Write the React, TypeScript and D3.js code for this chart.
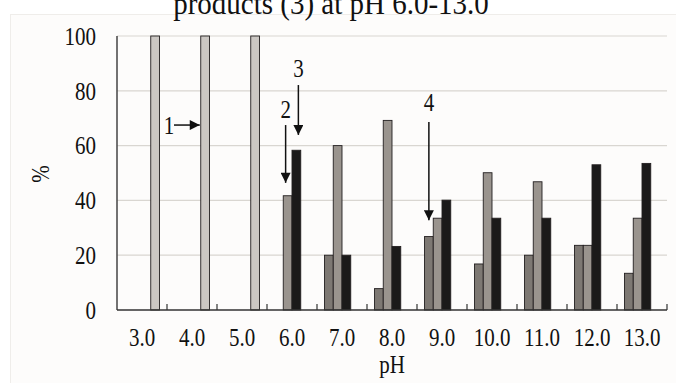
import * as d3 from 'd3';

// pH categories and the four series (% values)
const categories = ['3.0', '4.0', '5.0', '6.0', '7.0', '8.0', '9.0', '10.0', '11.0', '12.0', '13.0'];
const seriesA = [0, 0, 0, 0, 20, 7.8, 26.8, 16.8, 20, 23.6, 13.4];
const seriesB = [0, 0, 0, 41.7, 60, 69.2, 33.5, 50.1, 46.8, 23.6, 33.5];
const seriesC = [0, 0, 0, 58.3, 20, 23.2, 40.1, 33.5, 33.5, 53, 53.5];
const seriesD = [100, 100, 100, 0, 0, 0, 0, 0, 0, 0, 0];
const yTicks = [0, 20, 40, 60, 80, 100];

const seriesKeys = ['A', 'B', 'C', 'D'];
const seriesValues = [seriesA, seriesB, seriesC, seriesD];
const seriesColors = ['#7d7873', '#9a948e', '#1b1a1a', '#cbc7c3'];

const font = '"Liberation Serif", "Times New Roman", serif';

// text that is a bit taller than wide, like the scanned original
const T = ({ x, y, size = 21, anchor = 'middle', rotate = 0, sy = 1.2, dy = '0', children }) => (
  <text
    transform={`translate(${x},${y}) rotate(${rotate}) scale(1,${sy})`}
    textAnchor={anchor}
    dy={dy}
    fontFamily={font}
    fontSize={size}
    fill="#111"
  >
    {children}
  </text>
);

const App = () => {
  const width = 676;
  const height = 383;
  const margin = { top: 36, right: 9, bottom: 73, left: 117 };
  const innerW = width - margin.left - margin.right;
  const innerH = height - margin.top - margin.bottom;

  const x0 = d3.scaleBand().domain(categories).range([0, innerW]).padding(0);
  const x1 = d3
    .scaleBand()
    .domain(seriesKeys)
    .range([x0.bandwidth() * 0.15, x0.bandwidth() * 0.85])
    .padding(0);
  const y = d3.scaleLinear().domain([0, 100]).range([innerH, 0]);

  const bars = [];
  categories.forEach((c, i) => {
    seriesKeys.forEach((k, j) => {
      const v = seriesValues[j][i];
      if (v > 0) bars.push({ c, k, v, color: seriesColors[j] });
    });
  });

  const cx = (cat, key) => x0(cat) + x1(key) + x1.bandwidth() / 2;

  // downward arrows: label, x, arrow start / end value, label gap above start
  const arrowsDown = [
    { label: '2', x: cx('6.0', 'B') - 2, from: 67.5, to: 46.4, gap: 7 },
    { label: '3', x: cx('6.0', 'C') + 2, from: 82.1, to: 63.9, gap: 8 },
    { label: '4', x: cx('9.0', 'A'), from: 68.6, to: 32.8, gap: 11 },
  ];

  return (
    <svg width={width} height={height} style={{ position: 'absolute', left: 0, top: 0 }}>
      <defs>
        <marker id="ah" viewBox="0 0 10 10" refX="10" refY="5" markerWidth="12" markerHeight="10" orient="auto" markerUnits="userSpaceOnUse">
          <path d="M0,0 L10,5 L0,10 z" fill="#111" />
        </marker>
      </defs>
      <rect x={0} y={0} width={width} height={height} fill="#fff" />
      <rect x={10.5} y={14.5} width={width} height={height} fill="#fdfcfb" stroke="#efedea" />
      <T x={331} y={14} size={29} sy={1.1}>
        products (3) at pH 6.0-13.0
      </T>
      <g transform={`translate(${margin.left},${margin.top})`}>
        {yTicks.map(t => (
          <g key={t}>
            {t > 0 && (
              <line x1={0} x2={innerW} y1={y(t)} y2={y(t)} stroke="#d9d6d1" strokeWidth={1.2} />
            )}
            <T x={-21} y={y(t)} anchor="end" dy="0.35em">
              {t}
            </T>
          </g>
        ))}
        {bars.map((b, i) => (
          <rect
            key={i}
            x={x0(b.c) + x1(b.k)}
            y={y(b.v)}
            width={x1.bandwidth()}
            height={innerH - y(b.v)}
            fill={b.color}
            stroke="#231f20"
            strokeWidth={0.9}
          />
        ))}
        <line x1={0} x2={0} y1={0} y2={innerH} stroke="#444" strokeWidth={1.5} />
        <line x1={0} x2={innerW} y1={innerH} y2={innerH} stroke="#333" strokeWidth={1.5} />
        {categories.map((c, i) => (
          <g key={c}>
            {i > 0 && <line x1={x0(c)} x2={x0(c)} y1={innerH} y2={innerH - 6} stroke="#333" strokeWidth={1.2} />}
            <T x={x0(c) + x0.bandwidth() / 2} y={innerH + 36}>
              {c}
            </T>
          </g>
        ))}
        <line x1={innerW} x2={innerW} y1={innerH} y2={innerH - 6} stroke="#333" strokeWidth={1.2} />
        <T x={innerW / 2} y={innerH + 63}>
          pH
        </T>
        <T x={-77} y={innerH / 2 + 1} rotate={-90} dy="0.35em">
          %
        </T>
        {/* annotation 1 */}
        <T x={52} y={y(67.5)} size={21} dy="0.35em">
          1
        </T>
        <line
          x1={57}
          x2={x0('4.0') + x1('D') - 1}
          y1={y(67.5)}
          y2={y(67.5)}
          stroke="#111"
          strokeWidth={1.5}
          markerEnd="url(#ah)"
        />
        {arrowsDown.map(a => (
          <g key={a.label}>
            <T x={a.x} y={y(a.from) - a.gap} size={21}>
              {a.label}
            </T>
            <line x1={a.x} x2={a.x} y1={y(a.from)} y2={y(a.to)} stroke="#111" strokeWidth={1.5} markerEnd="url(#ah)" />
          </g>
        ))}
      </g>
    </svg>
  );
};

export default App;
